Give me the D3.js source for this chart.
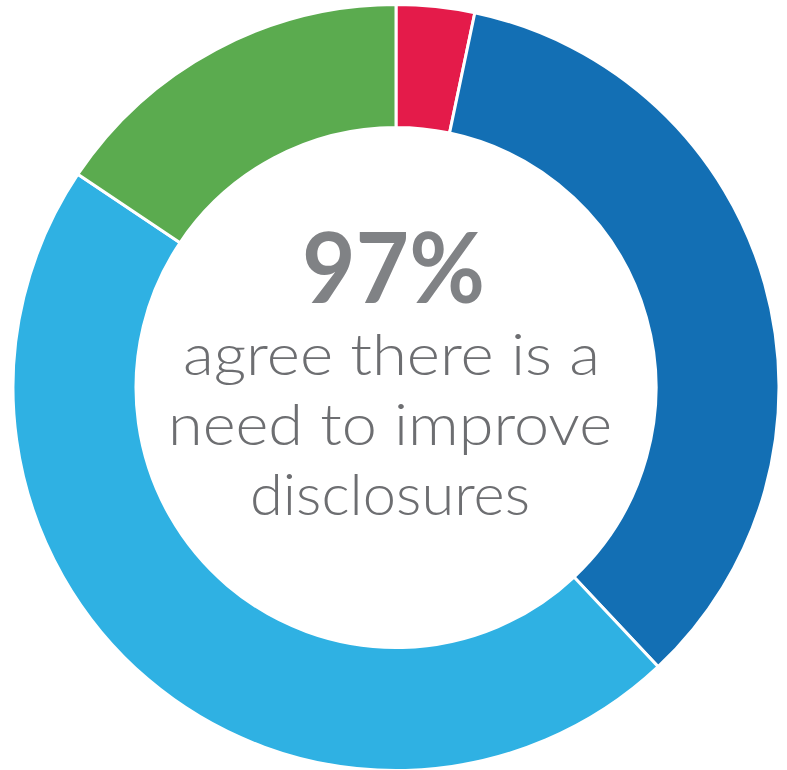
<!DOCTYPE html>
<html>
<head>
<meta charset="utf-8">
<script src="https://cdn.jsdelivr.net/npm/d3@7"></script>
<style>
  html, body { margin: 0; padding: 0; background: #ffffff; }
  svg { display: block; }
</style>
</head>
<body>
<svg id="chart" width="787" height="770"></svg>
<script>
// Response shares, clockwise from 12 o'clock
const categories = ["Disagree", "Strongly agree", "Agree", "Somewhat agree"];
const shares = [3.3, 34.7, 46.4, 15.6];
const colors = ["#e41b4a", "#136fb4", "#2fb1e3", "#5bab4f"];

const headline = "97%";
const captionLines = ["agree there is a", "need to improve", "disclosures"];

const svg = d3.select("#chart");
const cx = 396, cy = 387.5;
const outerR = 383, innerR = 260;

const data = categories.map((c, i) => ({ category: c, value: shares[i], color: colors[i] }));

const pie = d3.pie().sort(null).value(d => d.value).startAngle(0).endAngle(2 * Math.PI);
const arc = d3.arc().innerRadius(innerR).outerRadius(outerR);

const g = svg.append("g").attr("transform", `translate(${cx},${cy})`);

g.selectAll("path.slice")
  .data(pie(data))
  .join("path")
  .attr("class", "slice")
  .attr("d", arc)
  .attr("fill", d => d.data.color)
  .attr("stroke", "#ffffff")
  .attr("stroke-width", 3)
  .attr("stroke-linejoin", "miter");

// Centre text
const fontStack = "'Century Gothic', 'Lato', 'Open Sans', sans-serif";

svg.append("text")
  .attr("x", 393.5)
  .attr("y", 303)
  .attr("text-anchor", "middle")
  .attr("font-family", fontStack)
  .attr("font-weight", 700)
  .attr("font-size", 98)
  .attr("fill", "#808285")
  .attr("textLength", 183)
  .attr("lengthAdjust", "spacingAndGlyphs")
  .text(headline);

const lineY = [375, 445, 515];
const lineW = [417, 444, 280];
const lineX = [391.5, 390, 390];

svg.selectAll("text.caption")
  .data(captionLines)
  .join("text")
  .attr("class", "caption")
  .attr("x", (d, i) => lineX[i])
  .attr("y", (d, i) => lineY[i])
  .attr("text-anchor", "middle")
  .attr("font-family", fontStack)
  .attr("font-weight", 300)
  .attr("font-size", 58)
  .attr("fill", "#6d6e71")
  .attr("textLength", (d, i) => lineW[i])
  .attr("lengthAdjust", "spacingAndGlyphs")
  .text(d => d);
</script>
</body>
</html>
